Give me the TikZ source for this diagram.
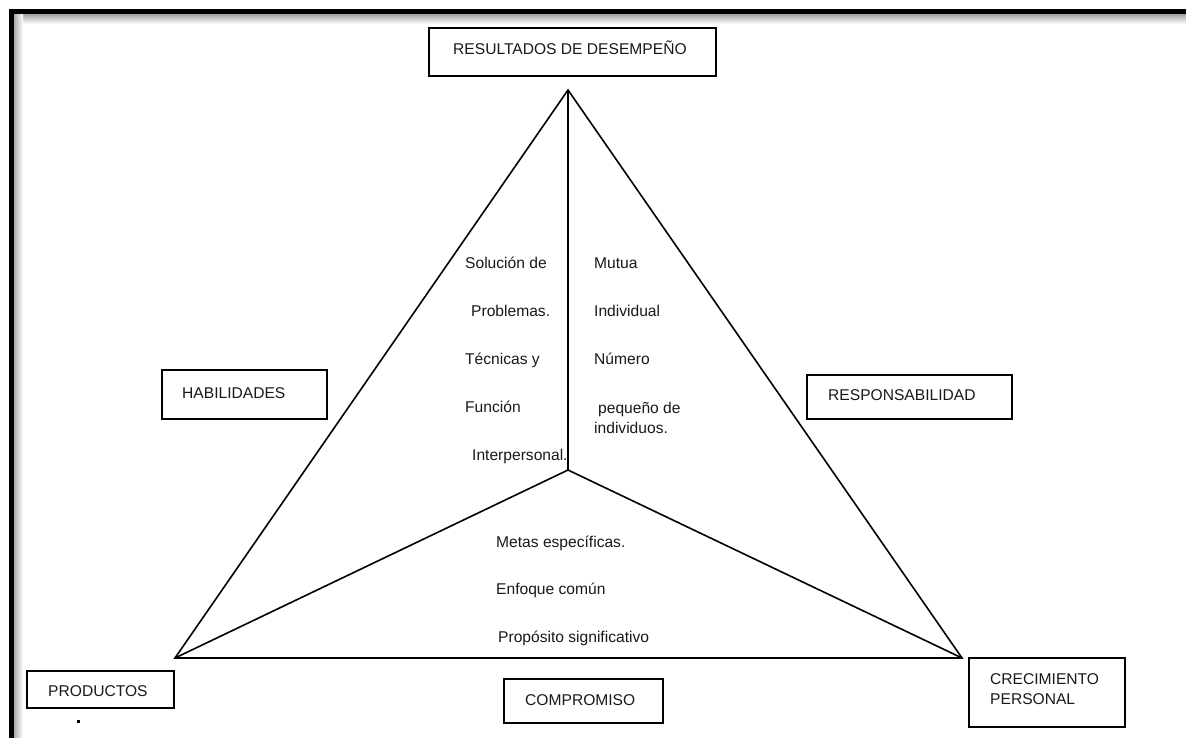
\documentclass[tikz,border=0pt]{standalone}
\usepackage{fontspec}
\setmainfont{Liberation Sans}
\begin{document}
\begin{tikzpicture}[x=1pt,y=-1pt,
  boxst/.style={draw=black, line width=1.5pt, rectangle, inner sep=0pt},
  lbl/.style={font=\fontsize{15.6}{20}\selectfont, inner sep=0pt, anchor=base west, text=black!90},
  edge/.style={draw=black, line width=1.6pt, line join=miter}]
\useasboundingbox (0,0) rectangle (1186,738);
% frame with shadow
\shade[top color=black!35, bottom color=white] (13.5,14.5) rectangle (1186,24);
\shade[left color=black!35, right color=white] (13.5,14.5) rectangle (23,738);
\fill[white] (23,24) rectangle (1186,738);
\fill[black] (8.5,9.5) rectangle (1186,14.5);
\fill[black] (8.5,9.5) rectangle (13.5,738);
% triangle
\coordinate (apex) at (568,90);
\coordinate (bl) at (175,658);
\coordinate (br) at (962,658);
\coordinate (ctr) at (568,470);
\draw[edge] (bl) -- (apex) -- (br) -- cycle;
\draw[edge] (apex) -- (ctr);
\draw[edge] (ctr) -- (bl);
\draw[edge] (ctr) -- (br);
% boxes
\node[boxst, minimum width=287pt, minimum height=48pt] (resbox) at (572.5,52) {};
\node[lbl] (restxt) at (453,55) {RESULTADOS DE DESEMPEÑO};
\node[boxst, minimum width=165pt, minimum height=49pt] (habbox) at (244.5,394.5) {};
\node[lbl] (habtxt) at (182,398) {HABILIDADES};
\node[boxst, minimum width=205pt, minimum height=44pt] (respbox) at (909.5,397) {};
\node[lbl] (resptxt) at (828,400) {RESPONSABILIDAD};
\node[boxst, minimum width=147pt, minimum height=37pt] (prodbox) at (100.5,689.5) {};
\node[lbl] (prodtxt) at (48,696) {PRODUCTOS};
\node[boxst, minimum width=159pt, minimum height=44pt] (compbox) at (583.5,701) {};
\node[lbl] (comptxt) at (525,705) {COMPROMISO};
\node[boxst, minimum width=156pt, minimum height=69pt] (crecbox) at (1047,692.5) {};
\node[lbl] (crectxt1) at (990,684) {CRECIMIENTO};
\node[lbl] (crectxt2) at (990,704) {PERSONAL};
% dot
\fill[black] (76.5,719.5) rectangle (79.5,722.5);
% left inner text
\node[lbl] (t1) at (465,268) {Solución de};
\node[lbl] (t2) at (471,316) {Problemas.};
\node[lbl] (t3) at (465,364) {Técnicas y};
\node[lbl] (t4) at (465,412) {Función};
\node[lbl] (t5) at (472,460) {Interpersonal.};
% right inner text
\node[lbl] (r1) at (594,268) {Mutua};
\node[lbl] (r2) at (594,316) {Individual};
\node[lbl] (r3) at (594,364) {Número};
\node[lbl] (r4) at (598,413) {pequeño de};
\node[lbl] (r5) at (594,433) {individuos.};
% bottom inner text
\node[lbl] (b1) at (496,547) {Metas específicas.};
\node[lbl] (b2) at (496,594) {Enfoque común};
\node[lbl] (b3) at (498,642) {Propósito significativo};
\end{tikzpicture}
\end{document}
